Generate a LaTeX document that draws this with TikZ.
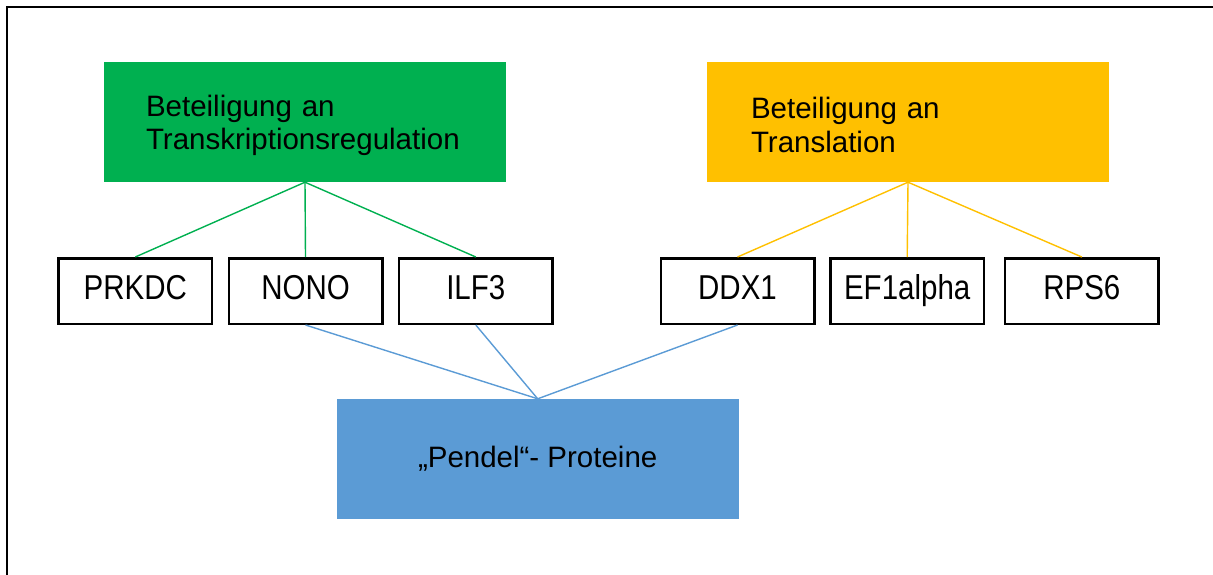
\documentclass[tikz,border=0pt]{standalone}
\usepackage{fontspec}
\setmainfont{Liberation Sans}
\definecolor{ggreen}{HTML}{00B050}
\definecolor{gyellow}{HTML}{FFC000}
\definecolor{gblue}{HTML}{5B9BD5}
\newcommand{\toplinestrut}{\rule{0pt}{27.5pt}}
\begin{document}
\begin{tikzpicture}[x=1pt,y=-1pt,
  catbox/.style={rectangle, minimum width=402pt, minimum height=120pt, inner sep=0pt,
    align=left, font=\fontsize{29.5}{33.3}\selectfont},
  genebox/.style={rectangle, draw=black, line width=2.5pt, fill=white,
    minimum width=153.5pt, minimum height=65.5pt, inner sep=0pt,
    text height=25pt, text depth=8pt, font=\fontsize{29.5}{33}\selectfont},
  conn/.style={line width=1.4pt}]
\useasboundingbox (0,0) rectangle (1213,574);
% frame
\coordinate (fbl) at (7,575);
\coordinate (ftl) at (7,7);
\coordinate (ftr) at (1214,7);
\draw[line width=2pt] (fbl) -- (ftl) -- (ftr);
% category boxes
\node[catbox, fill=ggreen, text width=318pt] (trans) at (305,122)
  {\toplinestrut Beteiligung an\\Transkriptionsregulation};
\node[catbox, fill=gyellow, text width=314pt] (transl) at (908,122)
  {\toplinestrut Beteiligung an\\Translation};
% gene boxes
\node[genebox] (prkdc) at (135.3,291) {\scalebox{1}[1.17]{PRKDC}};
\node[genebox] (nono) at (305.5,291) {\scalebox{1}[1.17]{NONO}};
\node[genebox] (ilf) at (475.8,291) {\scalebox{1}[1.17]{ILF3}};
\node[genebox] (ddx) at (737.5,291) {\scalebox{1}[1.17]{DDX1}};
\node[genebox] (ef) at (907.2,291) {\scalebox{1}[1.17]{EF1alpha}};
\node[genebox] (rps) at (1081.8,291) {\scalebox{1}[1.17]{RPS6}};
% pendel box
\node[catbox, fill=gblue, align=center] (pendel) at (537.7,459) {„Pendel“- Proteine};
% connectors
\draw[conn, ggreen] (trans.south) -- (prkdc.north);
\draw[conn, ggreen] (trans.south) -- (nono.north);
\draw[conn, ggreen] (trans.south) -- (ilf.north);
\draw[conn, gyellow] (transl.south) -- (ddx.north);
\draw[conn, gyellow] (transl.south) -- (ef.north);
\draw[conn, gyellow] (transl.south) -- (rps.north);
\draw[conn, gblue] (nono.south) -- (pendel.north);
\draw[conn, gblue] (ilf.south) -- (pendel.north);
\draw[conn, gblue] (ddx.south) -- (pendel.north);
\end{tikzpicture}
\end{document}
